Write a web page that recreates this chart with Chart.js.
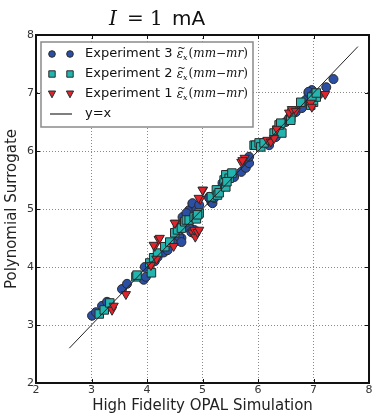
<!DOCTYPE html>
<html><head><meta charset="utf-8">
<script src="https://cdn.jsdelivr.net/npm/chart.js@4/dist/chart.umd.min.js"></script>
<style>html,body{margin:0;padding:0;background:#fff}#wrap{width:376px;height:416px}</style>
</head><body><div id="wrap"><canvas id="c" width="376" height="416"></canvas></div>
<script>
const exp3X = [3.01,3.08,3.19,3.28,3.55,3.64,3.94,3.98,3.96,4.14,4.19,4.30,4.37,4.55,4.62,4.58,4.62,4.64,4.71,4.64,4.76,4.71,4.82,4.82,4.89,4.94,4.76,4.85,4.76,4.80,5.12,5.16,5.12,5.18,5.21,5.30,5.36,5.36,5.44,5.57,5.70,5.78,5.84,5.84,6.20,6.32,6.50,6.56,6.68,6.79,6.86,6.91,6.97,6.91,7.00,7.09,7.23,7.36];
const exp3Y = [3.16,3.22,3.33,3.40,3.62,3.71,3.78,3.83,4.00,4.10,4.17,4.25,4.29,4.45,4.50,4.52,4.43,4.76,4.86,4.86,4.98,4.93,5.09,5.10,4.98,5.07,4.69,4.64,4.67,4.60,5.21,5.12,5.19,5.10,5.19,5.33,5.38,5.45,5.59,5.55,5.64,5.71,5.79,5.90,6.10,6.24,6.50,6.57,6.67,6.74,6.88,7.00,7.05,7.02,6.98,6.97,7.10,7.24];
const exp2X = [3.14,3.23,3.33,3.80,3.82,4.08,4.05,4.12,4.19,4.32,4.41,4.50,4.55,4.62,4.68,4.71,4.76,4.85,4.89,4.94,4.91,5.16,5.25,5.27,5.30,5.39,5.42,5.42,5.48,5.44,5.53,5.93,5.96,6.02,6.05,6.11,6.29,6.34,6.43,6.38,6.41,6.59,6.61,6.59,6.77,6.95,7.00,7.05,6.97,7.05];
const exp2Y = [3.19,3.26,3.38,3.83,3.86,3.90,4.07,4.16,4.24,4.35,4.43,4.59,4.64,4.67,4.78,4.81,4.81,4.86,4.83,4.93,4.90,5.21,5.33,5.24,5.28,5.50,5.38,5.59,5.53,5.47,5.62,6.10,6.10,6.14,6.07,6.14,6.31,6.36,6.31,6.45,6.48,6.57,6.66,6.53,6.84,6.79,6.84,6.93,6.93,7.00];
const exp1X = [3.37,3.40,3.62,4.07,4.17,4.14,4.12,4.21,4.23,4.48,4.51,4.50,4.82,4.87,4.85,4.91,4.94,4.96,4.93,5.01,5.00,5.70,5.76,5.72,6.17,6.23,6.29,6.34,6.56,6.61,6.68,6.95,6.97,7.21];
const exp1Y = [3.26,3.33,3.53,4.03,4.14,4.36,4.38,4.48,4.50,4.36,4.76,4.76,4.59,4.52,4.64,4.60,4.64,5.17,5.19,5.33,5.33,5.81,5.88,5.84,6.19,6.16,6.22,6.38,6.66,6.72,6.69,6.83,6.76,6.98];
const lineX = [2.6, 7.8];
const tickValues = [2,3,4,5,6,7,8];
const seriesNames = ["Experiment 3 ", "Experiment 2 ", "Experiment 1 "];

const pts = (xs, ys) => xs.map((x, i) => ({x: x, y: ys[i]}));

const C_BLUE = '#2b4fa3', C_TEAL = '#22b5b0', C_RED = '#e3232b', C_EDGE = '#2a2a2a';

function drawMarker(ctx, kind, x, y) {
  ctx.save();
  ctx.lineWidth = 1;
  ctx.strokeStyle = C_EDGE;
  ctx.beginPath();
  if (kind === 'c') { ctx.fillStyle = C_BLUE; ctx.arc(x, y, 3.3, 0, Math.PI*2); }
  else if (kind === 's') { ctx.fillStyle = C_TEAL; ctx.rect(x-3.2, y-3.2, 6.4, 6.4); }
  else { ctx.fillStyle = C_RED; ctx.moveTo(x-3.6, y-3); ctx.lineTo(x+3.6, y-3); ctx.lineTo(x, y+3.8); ctx.closePath(); }
  ctx.fill(); ctx.stroke();
  ctx.restore();
}

const decor = {
  id: 'decor',
  afterDraw(chart) {
    const ctx = chart.ctx, a = chart.chartArea;
    ctx.save();
    // inward tick marks
    ctx.strokeStyle = '#111'; ctx.lineWidth = 1;
    const xs = chart.scales.x, ys = chart.scales.y;
    tickValues.forEach(v => {
      const px = Math.round(xs.getPixelForValue(v)) + 0.5;
      const py = Math.round(ys.getPixelForValue(v)) + 0.5;
      ctx.beginPath();
      ctx.moveTo(px, a.bottom); ctx.lineTo(px, a.bottom - 4);
      ctx.moveTo(px, a.top); ctx.lineTo(px, a.top + 4);
      ctx.moveTo(a.left, py); ctx.lineTo(a.left + 4, py);
      ctx.moveTo(a.right, py); ctx.lineTo(a.right - 4, py);
      ctx.stroke();
    });
    // frame
    ctx.strokeStyle = '#111'; ctx.lineWidth = 2;
    ctx.strokeRect(a.left, a.top, a.right - a.left, a.bottom - a.top);
    // title
    ctx.fillStyle = '#111'; ctx.textBaseline = 'alphabetic';
    const ty = 25;
    ctx.font = 'italic 20px "DejaVu Serif"'; ctx.fillText('I', 109, ty);
    ctx.font = '20px "DejaVu Serif"'; ctx.fillText('=', 127, ty); ctx.fillText('1', 150, ty);
    ctx.font = '20px "DejaVu Sans"'; ctx.fillText('mA', 172, ty);
    // legend box
    ctx.fillStyle = '#fff'; ctx.fillRect(41, 42, 212, 85);
    ctx.strokeStyle = '#8a8a8a'; ctx.lineWidth = 1.5; ctx.strokeRect(41, 42, 212, 85);
    const kinds = ['c','s','t'];
    const rows = [54, 74, 94];
    for (let i = 0; i < 3; i++) {
      const y = rows[i];
      drawMarker(ctx, kinds[i], 52, y); drawMarker(ctx, kinds[i], 70, y);
      let x = 85;
      ctx.fillStyle = '#111'; ctx.textBaseline = 'middle';
      ctx.font = '13px "DejaVu Sans"'; ctx.fillText(seriesNames[i], x, y); x += ctx.measureText(seriesNames[i]).width;
      ctx.font = 'italic 12px "DejaVu Serif"'; ctx.fillText('ε', x, y + 1);
      const ew = ctx.measureText('ε').width;
      ctx.font = '10px "DejaVu Serif"'; ctx.fillText('~', x + 0.5, y - 6);
      x += ew;
      ctx.font = 'italic 8px "DejaVu Serif"'; ctx.fillText('x', x, y + 4); x += ctx.measureText('x').width + 1;
      const parts = [['(', ''], ['mm', 'italic '], ['−', ''], ['mr', 'italic '], [')', '']];
      for (const [s, st] of parts) {
        ctx.font = st + '12px "DejaVu Serif"'; ctx.fillText(s, x, y); x += ctx.measureText(s).width;
      }
    }
    // line sample
    ctx.strokeStyle = '#555'; ctx.lineWidth = 1.5;
    ctx.beginPath(); ctx.moveTo(50, 114); ctx.lineTo(72, 114); ctx.stroke();
    ctx.fillStyle = '#111'; ctx.font = '13px "DejaVu Sans"'; ctx.textBaseline = 'middle';
    ctx.fillText('y=x', 85, 114);
    ctx.restore();
  }
};

const common = {borderColor: C_EDGE, borderWidth: 1, radius: 4.5, hoverRadius: 4.5, showLine: false};
const gridOpts = {color: '#8a8a8a', lineWidth: 1, drawTicks: false};
new Chart(document.getElementById('c'), {
  type: 'scatter',
  data: {
    datasets: [
      {label: 'y=x', data: pts(lineX, lineX), showLine: true, borderColor: '#222', borderWidth: 1, pointRadius: 0, order: 0, type: 'line'},
      Object.assign({label: 'Experiment 1', data: pts(exp1X, exp1Y), backgroundColor: C_RED, pointStyle: 'triangle', rotation: 180, order: 1}, common, {radius: 5.3}),
      Object.assign({label: 'Experiment 2', data: pts(exp2X, exp2Y), backgroundColor: C_TEAL, pointStyle: 'rect', order: 2}, common, {radius: 6}),
      Object.assign({label: 'Experiment 3', data: pts(exp3X, exp3Y), backgroundColor: C_BLUE, pointStyle: 'circle', order: 3}, common)
    ]
  },
  options: {
    responsive: false, animation: false, devicePixelRatio: 1,
    layout: {padding: {top: 35, right: 5, left: 0, bottom: 0}},
    plugins: {legend: {display: false}, tooltip: {enabled: false}, title: {display: false}},
    scales: {
      x: {
        type: 'linear', min: 2, max: 8,
        afterBuildTicks: s => { s.ticks = tickValues.map(v => ({value: v})); },
        afterFit: s => { s.height = 33; },
        grid: gridOpts,
        border: {display: true, color: 'rgba(0,0,0,0)', dash: [1, 2]},
        ticks: {padding: 1, color: '#333', font: {family: 'DejaVu Sans', size: 11}, maxRotation: 0},
        title: {display: true, text: 'High Fidelity OPAL Simulation', color: '#222', font: {family: 'DejaVu Sans', size: 15}, padding: {top: 0, bottom: 1}}
      },
      y: {
        type: 'linear', min: 2, max: 8,
        afterBuildTicks: s => { s.ticks = tickValues.map(v => ({value: v})); },
        afterFit: s => { s.width = 36; },
        grid: gridOpts,
        border: {display: true, color: 'rgba(0,0,0,0)', dash: [1, 2]},
        ticks: {padding: 2, color: '#333', font: {family: 'DejaVu Sans', size: 11}},
        title: {display: true, text: 'Polynomial Surrogate', color: '#222', font: {family: 'DejaVu Sans', size: 15}, padding: {top: 3, bottom: 0}}
      }
    }
  },
  plugins: [decor]
});
</script></body></html>
